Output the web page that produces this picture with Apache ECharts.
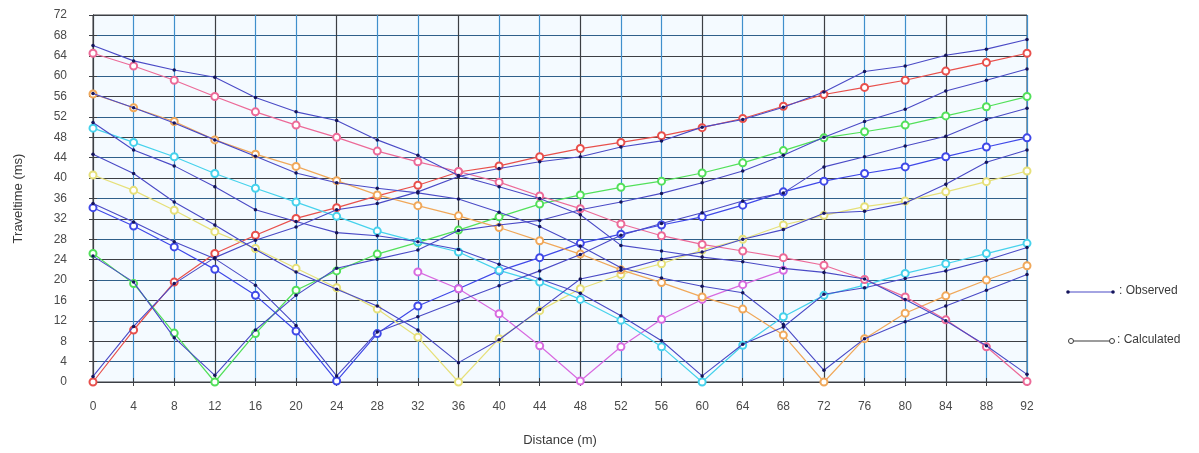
<!DOCTYPE html>
<html>
<head>
<meta charset="utf-8">
<script src="https://cdn.jsdelivr.net/npm/echarts@6/dist/echarts.min.js"></script>
<style>
  html, body { margin: 0; padding: 0; background: #ffffff; }
  #chart { width: 1199px; height: 453px; }
</style>
</head>
<body>
<div id="chart"></div>
<script>
// Geophone positions along the spread (m)
const distances = [0, 4, 8, 12, 16, 20, 24, 28, 32, 36, 40, 44, 48, 52, 56, 60, 64, 68, 72, 76, 80, 84, 88, 92];

// Tick labels
const xTicks = [0, 4, 8, 12, 16, 20, 24, 28, 32, 36, 40, 44, 48, 52, 56, 60, 64, 68, 72, 76, 80, 84, 88, 92];
const yTicks = [0, 4, 8, 12, 16, 20, 24, 28, 32, 36, 40, 44, 48, 52, 56, 60, 64, 68, 72];

// Shot positions (m)
const shots = [0, 12, 24, 36, 48, 60, 72, 92];

// Observed first-arrival traveltimes (ms), one list per shot
const obsShot0  = [1.1, 10.9, 19.3, 24.4, 27.8, 30.4, 33.8, 35.0, 37.3, 40.3, 41.9, 43.2, 44.2, 46.1, 47.3, 50.0, 51.5, 53.9, 56.9, 60.9, 62.0, 64.1, 65.3, 67.2];
const obsShot12 = [24.7, 19.6, 8.7, 1.3, 10.2, 17.0, 22.3, 24.1, 25.9, 29.7, 30.8, 31.7, 33.8, 35.3, 37.0, 39.1, 41.4, 44.5, 48.0, 51.1, 53.5, 57.1, 59.2, 61.4];
const obsShot24 = [35.0, 31.4, 27.5, 24.2, 19.0, 11.1, 1.2, 9.8, 12.8, 15.9, 18.9, 21.8, 25.0, 28.8, 31.1, 33.2, 35.5, 37.1, 42.2, 44.2, 46.3, 48.2, 51.5, 53.7];
const obsShot36 = [44.7, 40.9, 35.3, 30.8, 26.0, 21.6, 18.2, 14.9, 10.2, 3.8, 8.3, 14.2, 20.2, 21.9, 24.1, 25.5, 28.0, 29.9, 33.1, 33.5, 35.1, 38.8, 43.1, 45.5];
const obsShot60 = [50.9, 45.5, 42.4, 38.3, 33.8, 31.5, 29.3, 28.7, 27.5, 26.0, 23.1, 20.2, 17.4, 13.0, 8.1, 1.2, 7.4, 10.8, 17.2, 18.5, 20.3, 21.8, 23.9, 26.4];
const obsShot72 = [56.6, 53.8, 50.8, 47.5, 44.3, 41.0, 39.1, 38.0, 37.1, 35.9, 33.3, 30.5, 26.7, 22.4, 20.4, 18.8, 17.5, 11.3, 2.3, 8.5, 11.8, 14.9, 18.0, 21.1];
const obsShot92 = [66.0, 63.0, 61.2, 59.8, 55.8, 53.0, 51.3, 47.5, 44.5, 40.5, 38.3, 36.0, 32.8, 26.8, 25.7, 24.5, 23.6, 22.3, 21.5, 20.2, 16.2, 12.0, 7.1, 1.5];

// Calculated traveltimes (ms) from the layered model, one list per shot
const calShot0  = [0.0, 10.2, 19.6, 25.2, 28.8, 32.1, 34.2, 36.5, 38.6, 41.2, 42.4, 44.2, 45.8, 47.0, 48.3, 49.9, 51.7, 54.1, 56.4, 57.8, 59.2, 61.0, 62.7, 64.5];
const calShot12 = [25.2, 19.3, 9.6, 0.0, 9.5, 18.0, 21.8, 25.1, 27.4, 29.8, 32.4, 34.9, 36.7, 38.2, 39.4, 41.0, 43.0, 45.4, 47.9, 49.1, 50.4, 52.2, 54.0, 56.0];
const calShot24 = [34.2, 30.6, 26.5, 22.1, 17.0, 10.0, 0.2, 9.5, 14.9, 18.3, 21.8, 24.4, 27.2, 29.0, 30.8, 32.4, 34.7, 37.3, 39.4, 40.9, 42.2, 44.2, 46.1, 47.9];
const calShot36 = [40.6, 37.6, 33.7, 29.5, 26.2, 22.3, 18.5, 14.3, 8.8, 0.0, 8.5, 14.0, 18.3, 21.1, 23.2, 25.9, 28.0, 30.8, 32.7, 34.4, 35.5, 37.3, 39.3, 41.4];
const calShot48 = [null, null, null, null, null, null, null, null, 21.6, 18.3, 13.4, 7.1, 0.2, 6.9, 12.3, 16.2, 19.1, 21.9, null, null, null, null, null, null];
const calShot60 = [49.8, 47.0, 44.2, 40.9, 38.0, 35.3, 32.5, 29.6, 27.5, 25.5, 21.9, 19.6, 16.2, 12.1, 6.9, 0.0, 7.2, 12.8, 17.0, 19.0, 21.3, 23.2, 25.2, 27.2];
const calShot72 = [56.5, 53.8, 51.1, 47.5, 44.7, 42.3, 39.5, 36.7, 34.6, 32.6, 30.3, 27.7, 25.1, 22.0, 19.5, 16.7, 14.3, 9.2, 0.0, 8.5, 13.5, 16.9, 20.0, 22.8];
const calShot92 = [64.5, 62.0, 59.2, 56.0, 53.0, 50.4, 48.0, 45.3, 43.2, 41.3, 39.2, 36.5, 34.0, 31.0, 28.7, 27.0, 25.7, 24.4, 22.9, 20.1, 16.7, 12.2, 6.9, 0.1];

const observed = [obsShot0, obsShot12, obsShot24, obsShot36, obsShot60, obsShot72, obsShot92];
const calculated = [calShot0, calShot12, calShot24, calShot36, calShot48, calShot60, calShot72, calShot92];
const calColors = ['#e8504c', '#52e05a', '#3f48e8', '#e6e07a', '#d86ae0', '#46d2ec', '#f0a85a', '#ec6a98'];

const OBS_LINE = '#4a4ac6';
const OBS_DOT = '#14145a';
const GRID_DARK = '#3c3f44';
const GRID_BLUE = '#3f8fcc';

function pairs(values) {
  return distances.map((d, i) => [d, values[i]]);
}

const series = [];
calculated.forEach((vals, k) => {
  series.push({
    type: 'line',
    name: 'Calculated',
    data: pairs(vals),
    connectNulls: false,
    symbol: 'emptyCircle',
    symbolSize: 7,
    showAllSymbol: true,
    lineStyle: { color: calColors[k], width: 1.2 },
    itemStyle: { color: calColors[k], borderColor: calColors[k], borderWidth: 1.2 },
    z: 3,
    animation: false
  });
});
observed.forEach((vals) => {
  series.push({
    type: 'line',
    name: 'Observed',
    data: pairs(vals),
    symbol: 'circle',
    symbolSize: 3.5,
    showAllSymbol: true,
    lineStyle: { color: OBS_LINE, width: 1.1 },
    itemStyle: { color: OBS_DOT },
    z: 4,
    animation: false
  });
});

const labelStyle = { color: '#4a4a4a', fontSize: 12, fontFamily: 'Liberation Sans, Arial, sans-serif' };

const chart = echarts.init(document.getElementById('chart'), null, { renderer: 'canvas' });
chart.setOption({
  animation: false,
  backgroundColor: '#ffffff',
  grid: {
    left: 93, right: 172, top: 15, bottom: 71,
    show: true,
    backgroundColor: '#f4faff',
    borderColor: GRID_DARK,
    borderWidth: 1
  },
  xAxis: [{
    type: 'value',
    min: 0, max: 92, interval: 4,
    name: 'Distance (m)',
    nameLocation: 'middle',
    nameGap: 52,
    nameTextStyle: { color: '#3a3a3a', fontSize: 13, fontFamily: 'Liberation Sans, Arial, sans-serif' },
    axisLine: { show: true, lineStyle: { color: GRID_DARK } },
    axisTick: { show: true, length: 4, lineStyle: { color: GRID_DARK } },
    axisLabel: Object.assign({ margin: 19, formatter: v => xTicks.includes(v) ? String(v) : '' }, labelStyle),
    splitLine: { show: true, lineStyle: { color: [GRID_DARK, GRID_BLUE, GRID_BLUE], width: 1.2 } }
  }, {
    type: 'value', position: 'top',
    min: 0, max: 92, interval: 4,
    axisLine: { show: true, lineStyle: { color: GRID_DARK } },
    axisTick: { show: true, length: 4, lineStyle: { color: GRID_DARK } },
    axisLabel: { show: false },
    splitLine: { show: false }
  }],
  yAxis: [{
    type: 'value',
    min: 0, max: 72, interval: 4,
    name: 'Traveltime (ms)',
    nameLocation: 'middle',
    nameGap: 68,
    nameRotate: 90,
    nameTextStyle: { color: '#3a3a3a', fontSize: 13, fontFamily: 'Liberation Sans, Arial, sans-serif' },
    axisLine: { show: true, lineStyle: { color: GRID_DARK } },
    axisTick: { show: true, length: 4, lineStyle: { color: GRID_DARK } },
    axisLabel: Object.assign({ margin: 26, formatter: v => yTicks.includes(v) ? String(v) : '' }, labelStyle),
    splitLine: { show: true, lineStyle: { color: [GRID_DARK, '#2f5f8a'], width: 1.2 } }
  }, {
    type: 'value', position: 'right',
    min: 0, max: 72, interval: 4,
    axisLine: { show: true, lineStyle: { color: GRID_DARK } },
    axisTick: { show: true, length: 4, lineStyle: { color: GRID_DARK } },
    axisLabel: { show: false },
    splitLine: { show: false }
  }],
  series: series,
  graphic: [
    // Observed key
    { type: 'line', shape: { x1: 1068, y1: 292, x2: 1113, y2: 292 }, style: { stroke: OBS_LINE, lineWidth: 1.1 } },
    { type: 'circle', shape: { cx: 1068, cy: 292, r: 1.8 }, style: { fill: OBS_DOT } },
    { type: 'circle', shape: { cx: 1113, cy: 292, r: 1.8 }, style: { fill: OBS_DOT } },
    { type: 'text', left: 1119, top: 285, style: { text: ': Observed', fill: '#3a3a3a', font: '12px Liberation Sans, Arial, sans-serif' } },
    // Calculated key
    { type: 'line', shape: { x1: 1071, y1: 341, x2: 1112, y2: 341 }, style: { stroke: '#3a3a3a', lineWidth: 1.1 } },
    { type: 'circle', shape: { cx: 1071, cy: 341, r: 2.5 }, style: { fill: '#ffffff', stroke: '#3a3a3a', lineWidth: 1 } },
    { type: 'circle', shape: { cx: 1112, cy: 341, r: 2.5 }, style: { fill: '#ffffff', stroke: '#3a3a3a', lineWidth: 1 } },
    { type: 'text', left: 1117, top: 334, style: { text: ': Calculated', fill: '#3a3a3a', font: '12px Liberation Sans, Arial, sans-serif' } }
  ]
});
</script>
</body>
</html>
